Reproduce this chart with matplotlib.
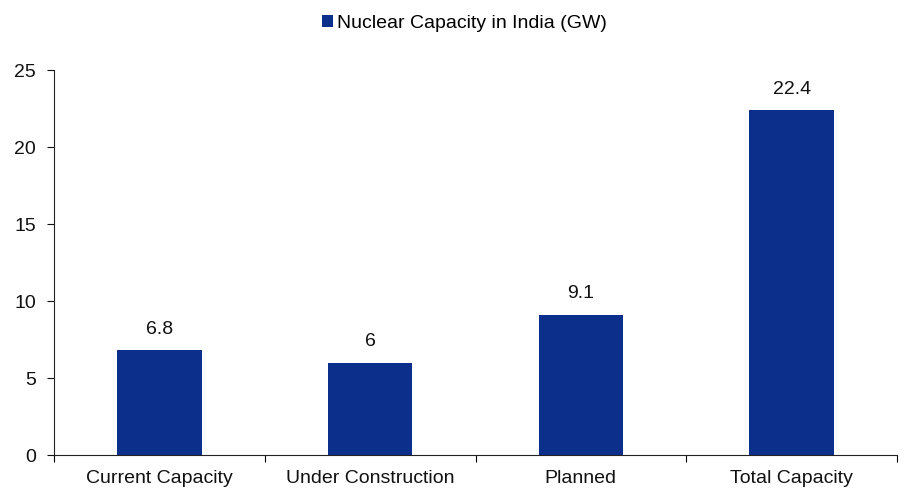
import matplotlib
matplotlib.use("Agg")
import matplotlib.pyplot as plt
import numpy as np

plt.rcParams['font.family'] = ['Liberation Sans', 'DejaVu Sans']

categories = ["Current Capacity", "Under Construction", "Planned", "Total Capacity"]
capacity_gw = [6.8, 6, 9.1, 22.4]
value_labels = ["6.8", "6", "9.1", "22.4"]
series_name = "Nuclear Capacity in India (GW)"
bar_color = "#0B2F8A"

fig = plt.figure(figsize=(9.09, 4.90), dpi=100)
ax = fig.add_axes([54 / 909, 1 - 455 / 490, (897 - 54) / 909, (455 - 70) / 490])

x = np.arange(len(categories))
bars = ax.bar(x, capacity_gw, width=0.4, color=bar_color, label=series_name, zorder=2)

for rect, txt in zip(bars, value_labels):
    ax.annotate(txt, (rect.get_x() + rect.get_width() / 2, rect.get_height()),
                xytext=(0, 9), textcoords="offset points",
                ha="center", va="bottom", fontsize=14, color="#111111")

ax.set_xlim(-0.5, len(categories) - 0.5)
ax.set_ylim(0, 25)
ax.set_yticks(np.arange(0, 26, 5))
ax.tick_params(axis='y', direction='out', length=5, width=0.8, labelsize=14, pad=8, colors="#111111")

ax.set_xticks(x)
ax.set_xticklabels(categories)
ax.set_xticks(np.arange(-0.5, len(categories), 1), minor=True)
ax.tick_params(axis='x', which='major', length=0, labelsize=14, pad=11, colors="#111111")
ax.tick_params(axis='x', which='minor', direction='out', length=5, width=0.8)

for side in ("top", "right"):
    ax.spines[side].set_visible(False)
for side in ("left", "bottom"):
    ax.spines[side].set_linewidth(0.8)
    ax.spines[side].set_color("#222222")

fig.legend(loc="upper center", bbox_to_anchor=(0.511, 1.006), frameon=False,
           fontsize=14, handlelength=0.55, handleheight=0.55, handletextpad=0.2)

fig.savefig("out.png", dpi=100)
